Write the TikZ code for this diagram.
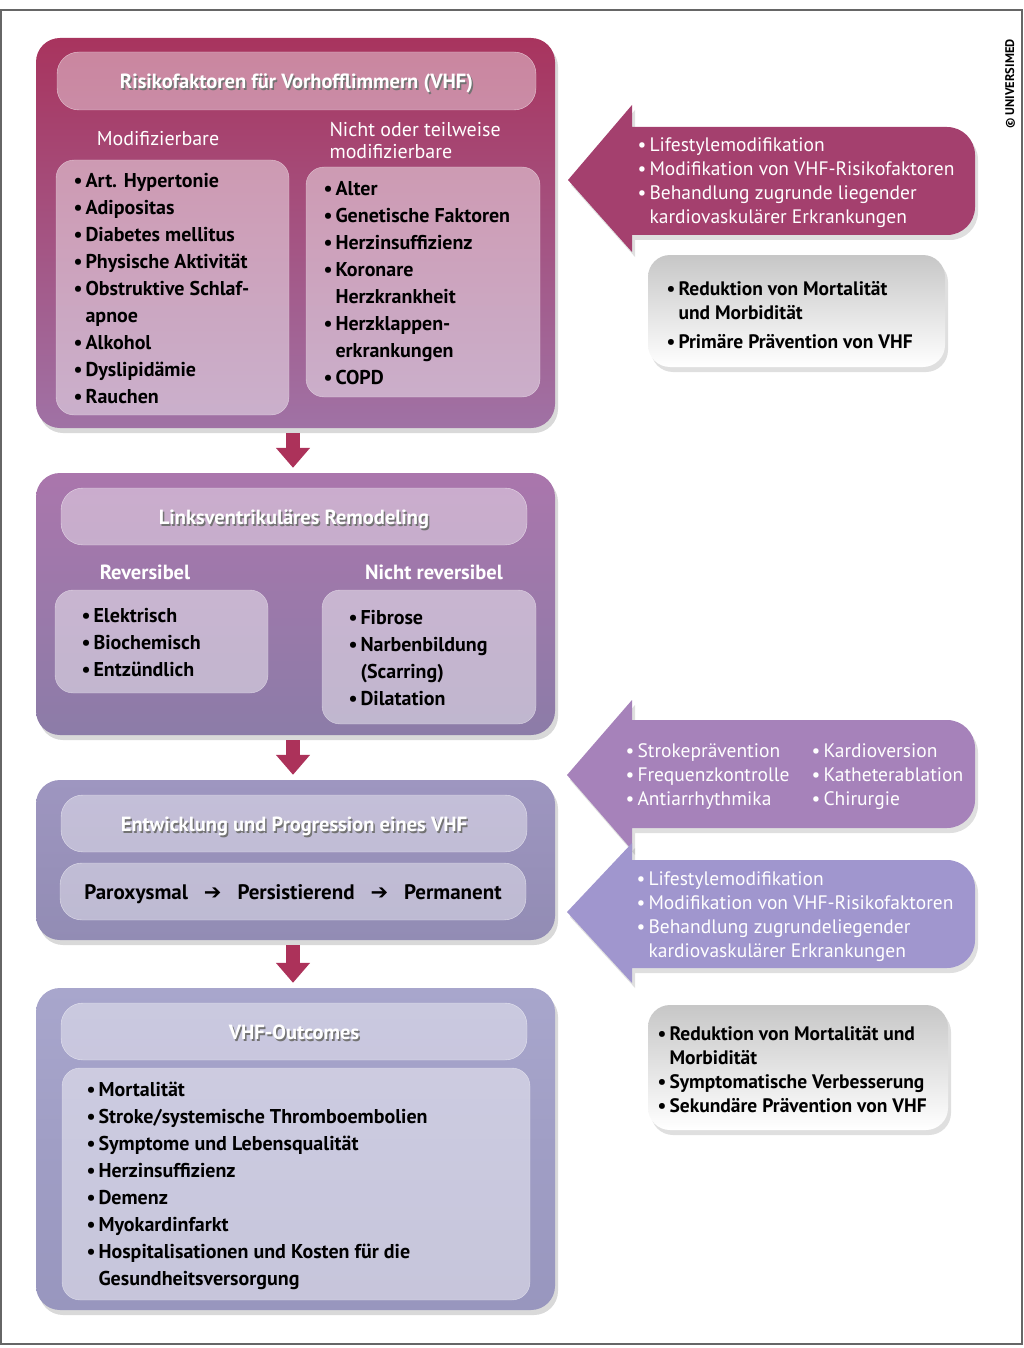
\documentclass[tikz,border=0pt]{standalone}
\usepackage{fontspec}
\setmainfont{PT Sans}
\newfontfamily\symfont{DejaVu Sans}
\usetikzlibrary{shadows,arrows.meta}

\definecolor{rfTop}{RGB}{168,52,94}
\definecolor{rfBot}{RGB}{160,114,165}
\definecolor{lvTop}{RGB}{170,118,172}
\definecolor{lvBot}{RGB}{140,124,168}
\definecolor{evTop}{RGB}{158,150,192}
\definecolor{evBot}{RGB}{146,140,180}
\definecolor{ocTop}{RGB}{168,166,204}
\definecolor{ocBot}{RGB}{152,150,190}
\definecolor{arrA}{RGB}{164,64,110}
\definecolor{arrB}{RGB}{166,130,186}
\definecolor{arrC}{RGB}{160,150,206}
\definecolor{downArr}{RGB}{172,50,90}

\newcommand{\itm}{\makebox[12pt][l]{•}}
\newcommand{\ind}{\hspace*{12pt}}
\newcommand{\shadowtxt}[1]{\rlap{\kern1.5pt\raisebox{-1.5pt}{\textcolor{black!55}{#1}}}\textcolor{white}{#1}}

\tikzset{
  mainbox/.style={rounded corners=24pt, minimum width=519pt,
    drop shadow={shadow xshift=3pt, shadow yshift=-5pt, opacity=0.3}},
  pill/.style={rounded corners=22pt, fill=white, fill opacity=0.4, draw=white, draw opacity=0.6,
    text opacity=1, minimum width=466pt, minimum height=57pt, text height=20pt, text depth=4pt,
    font=\bfseries\fontsize{20.5}{24}\selectfont},
  innerbox/.style={rounded corners=18pt, fill=white, fill opacity=0.45, draw=white, draw opacity=0.5},
  itemtext/.style={align=left, anchor=west, text=black, font=\bfseries\fontsize{20}{27}\selectfont},
  subhead/.style={text=white, font=\fontsize{20}{22}\selectfont},
  boldhead/.style={text=white, font=\bfseries\fontsize{20.5}{22}\selectfont},
  sidetext/.style={align=left, anchor=west, text=white, font=\fontsize{19.5}{24}\selectfont},
  greytext/.style={align=left, anchor=west, text=black, font=\bfseries\fontsize{19.5}{24}\selectfont},
  greybox/.style={rounded corners=22pt, top color=black!22, bottom color=white,
    drop shadow={shadow xshift=3pt, shadow yshift=-5pt, opacity=0.25}},
  sideshadow/.style={drop shadow={shadow xshift=3pt, shadow yshift=-5pt, opacity=0.25}},
  downarrow/.style={draw=downArr, line width=14pt, -{Triangle[length=20pt,width=33pt]},
    shorten <=5pt, shorten >=5pt}
}

\begin{document}
\begin{tikzpicture}[x=1pt, y=-1pt]
  \useasboundingbox (0,0) rectangle (1024,1348);
  \draw[black!60, line width=1.5pt] (1,10) rectangle (1022,1344);

  % main column
  \node[mainbox, top color=rfTop, bottom color=rfBot, minimum height=390pt] (risk) at (295.5,233) {};
  \node[mainbox, top color=lvTop, bottom color=lvBot, minimum height=262pt] (remod) at (295.5,604) {};
  \node[mainbox, top color=evTop, bottom color=evBot, minimum height=160pt] (prog) at (295.5,860) {};
  \node[mainbox, top color=ocTop, bottom color=ocBot, minimum height=322pt] (outc) at (295.5,1149) {};

  \node[pill, minimum width=479pt, minimum height=58pt] (riskttl) at (296.5,81) {\shadowtxt{Risikofaktoren für Vorhofflimmern (VHF)}};
  \node[pill] (remodttl) at (294,516.5) {\shadowtxt{Linksventrikuläres Remodeling}};
  \node[pill] (progttl) at (294,823.5) {\shadowtxt{Entwicklung und Progression eines VHF}};
  \node[pill, font=\bfseries\fontsize{21}{24}\selectfont] (progline) at (293,891.5)
    {\textcolor{black}{Paroxysmal \ \ {\symfont ➔} \ \ Persistierend \ \ {\symfont ➔} \ \ Permanent}};
  \node[pill] (outcttl) at (294,1031.5) {\shadowtxt{VHF-Outcomes}};

  % risk factors
  \node[subhead] (modhd) at (158,139) {Modifizierbare};
  \node[subhead, align=left, anchor=west] (nonhd) at (326,141) {Nicht oder teilweise\\modifizierbare};
  \node[innerbox, minimum width=233pt, minimum height=255pt] (modbox) at (172.5,287.5) {};
  \node[innerbox, minimum width=234pt, minimum height=230pt] (nonbox) at (423,282) {};
  \node[itemtext] (modlist) at (70,289) {\itm Art. Hypertonie\\\itm Adipositas\\\itm Diabetes mellitus\\
    \itm Physische Aktivität\\\itm Obstruktive Schlaf-\\\ind apnoe\\\itm Alkohol\\\itm Dyslipidämie\\\itm Rauchen};
  \node[itemtext] (nonlist) at (320,283.5) {\itm Alter\\\itm Genetische Faktoren\\\itm Herzinsuffizienz\\
    \itm Koronare\\\ind Herzkrankheit\\\itm Herzklappen-\\\ind erkrankungen\\\itm COPD};

  % remodeling
  \node[boldhead] (revhd) at (145,572) {Reversibel};
  \node[boldhead] (irrhd) at (434,572) {Nicht reversibel};
  \node[innerbox, minimum width=213pt, minimum height=103pt] (revbox) at (161.5,641.5) {};
  \node[innerbox, minimum width=214pt, minimum height=134pt] (irrbox) at (429,657) {};
  \node[itemtext] (revlist) at (78,643) {\itm Elektrisch\\\itm Biochemisch\\\itm Entzündlich};
  \node[itemtext] (irrlist) at (345,658.5) {\itm Fibrose\\\itm Narbenbildung\\\ind (Scarring)\\\itm Dilatation};

  % outcomes
  \node[innerbox, minimum width=468pt, minimum height=232pt] (outcbox) at (296,1184) {};
  \node[itemtext] (outclist) at (83,1185.5) {\itm Mortalität\\\itm Stroke/systemische Thromboembolien\\
    \itm Symptome und Lebensqualität\\\itm Herzinsuffizienz\\\itm Demenz\\\itm Myokardinfarkt\\
    \itm Hospitalisationen und Kosten für die\\\ind Gesundheitsversorgung};

  \draw[downarrow] (risk.south -| 293,0) -- (remod.north -| 293,0);
  \draw[downarrow] (remod.south -| 293,0) -- (prog.north -| 293,0);
  \draw[downarrow] (prog.south -| 293,0) -- (outc.north -| 293,0);

  % side arrows
  \fill[arrA, sideshadow] (568,180) -- (632,105) -- (632,127) [rounded corners=28pt] -- (975,127) -- (975,235) [sharp corners] -- (632,235) -- (632,252) -- cycle;
  \fill[arrB, sideshadow] (567,775) -- (632,700) -- (632,720) [rounded corners=28pt] -- (975,720) -- (975,828) [sharp corners] -- (632,828) -- (632,850) -- cycle;
  \fill[arrC, sideshadow] (567,912) -- (632,843) -- (632,860) [rounded corners=28pt] -- (975,860) -- (975,968) [sharp corners] -- (632,968) -- (632,983) -- cycle;

  \node[sidetext] (lifeA) at (634,183) {\itm Lifestylemodifikation\\\itm Modifikation von VHF-Risikofaktoren\\
    \itm Behandlung zugrunde liegender\\\ind kardiovaskulärer Erkrankungen};
  \node[sidetext] (therB) at (622,777) {\itm Strokeprävention\\\itm Frequenzkontrolle\\\itm Antiarrhythmika};
  \node[sidetext] (therC) at (808,777) {\itm Kardioversion\\\itm Katheterablation\\\itm Chirurgie};
  \node[sidetext] (lifeC) at (633,917) {\itm Lifestylemodifikation\\\itm Modifikation von VHF-Risikofaktoren\\
    \itm Behandlung zugrundeliegender\\\ind kardiovaskulärer Erkrankungen};

  % goals
  \node[greybox, minimum width=297pt, minimum height=112pt] (primbox) at (796.5,311) {};
  \node[greytext] (primlist) at (663,315) {\itm Reduktion von Mortalität\\\ind und Morbidität\\[5pt]\itm Primäre Prävention von VHF};
  \node[greybox, minimum width=300pt, minimum height=125pt] (sekbox) at (798,1067.5) {};
  \node[greytext] (seklist) at (654,1069.5) {\itm Reduktion von Mortalität und\\\ind Morbidität\\
    \itm Symptomatische Verbesserung\\\itm Sekundäre Prävention von VHF};

  \node[rotate=90, font=\bfseries\fontsize{12.5}{14}\selectfont] (copy) at (1010,84) {© UNIVERSIMED};
\end{tikzpicture}
\end{document}
